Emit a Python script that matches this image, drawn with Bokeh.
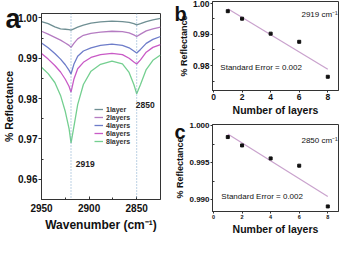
import numpy as np
from bokeh.plotting import figure
from bokeh.models import Range1d, FixedTicker, PrintfTickFormatter, Label, Span, Legend, LegendItem, Title
from bokeh.layouts import row, column
from bokeh.embed import file_html
from bokeh.resources import INLINE

# ---------------- data ----------------
wavenumber = [2950, 2943, 2936, 2930, 2925, 2921, 2919, 2916, 2912, 2906, 2898,
              2888, 2876, 2865, 2858, 2853, 2850, 2846, 2840, 2833, 2825]
refl_1layer = [0.9991, 0.9986, 0.9978, 0.9973, 0.9972, 0.9971, 0.9970, 0.9973, 0.9977, 0.9982, 0.9987,
               0.9990, 0.9992, 0.9991, 0.9989, 0.9986, 0.9983, 0.9986, 0.9991, 0.9995, 0.9999]
refl_2layers = [0.9967, 0.9960, 0.9952, 0.9945, 0.9938, 0.9932, 0.9927, 0.9937, 0.9948, 0.9957, 0.9962,
                0.9965, 0.9967, 0.9966, 0.9963, 0.9958, 0.9954, 0.9960, 0.9968, 0.9973, 0.9977]
refl_4layers = [0.9938, 0.9926, 0.9912, 0.9898, 0.9884, 0.9870, 0.9861, 0.9885, 0.9905, 0.9918, 0.9926,
                0.9932, 0.9935, 0.9932, 0.9926, 0.9918, 0.9913, 0.9922, 0.9937, 0.9947, 0.9954]
refl_6layers = [0.9912, 0.9898, 0.9882, 0.9866, 0.9848, 0.9830, 0.9816, 0.9848, 0.9874, 0.9890, 0.9902,
                0.9909, 0.9912, 0.9909, 0.9900, 0.9891, 0.9886, 0.9896, 0.9915, 0.9927, 0.9934]
refl_8layers = [0.9878, 0.9862, 0.9840, 0.9808, 0.9768, 0.9725, 0.9690, 0.9730, 0.9785, 0.9835, 0.9868,
                0.9885, 0.9893, 0.9886, 0.9865, 0.9835, 0.9812, 0.9835, 0.9872, 0.9895, 0.9908]
series_names = ["1layer", "2layers", "4layers", "6layers", "8layers"]
series_colors = ["#6f8f93", "#b57cc2", "#6d7cc9", "#c95ac6", "#74cf90"]

peaks = [2919, 2850]
peak_labels = ["2919", "2850"]

layers = [1, 2, 4, 6, 8]
refl_at_2919 = [0.9974, 0.9950, 0.9902, 0.9876, 0.9764]
refl_at_2850 = [0.99849, 0.99735, 0.99558, 0.99459, 0.98904]

a_x_ticks = [2950, 2900, 2850]
a_x_minor = [2925, 2875]
a_y_ticks = [0.96, 0.97, 0.98, 0.99, 1.00]
a_y_minor = [0.965, 0.975, 0.985, 0.995]
b_y_ticks = [0.98, 0.99, 1.00]
b_y_minor = [0.975, 0.985, 0.995]
c_y_ticks = [0.990, 0.995, 1.000]
c_y_minor = [0.9925, 0.9975]
layer_ticks = [0, 2, 4, 6, 8]

FONT = "Liberation Sans"
AX = "#333333"
TXT = "#111111"


def style_axis(ax, tick_size, label_size):
    ax.axis_line_color = AX
    ax.major_tick_line_color = AX
    ax.minor_tick_line_color = AX
    ax.major_label_text_font = FONT
    ax.major_label_text_font_style = "bold"
    ax.major_label_text_font_size = tick_size
    ax.major_label_text_color = TXT
    ax.axis_label_text_font = FONT
    ax.axis_label_text_font_style = "bold"
    ax.axis_label_text_font_size = label_size
    ax.axis_label_text_color = TXT


def base_fig(**kw):
    p = figure(output_backend="svg", toolbar_location=None, **kw)
    p.xgrid.visible = False
    p.ygrid.visible = False
    p.outline_line_color = AX
    p.outline_line_alpha = 1
    p.background_fill_color = "white"
    p.border_fill_color = "white"
    return p


def panel_letter(p, letter, size, offset, standoff):
    # panel letter drawn as a left-aligned title that hangs down beside the frame
    p.add_layout(Title(text=letter, align="left", offset=offset, standoff=standoff,
                       vertical_align="bottom", text_font=FONT, text_font_size=size,
                       text_font_style="bold", text_color="#111111"), "above")


# ---------------- panel a ----------------
pa = base_fig(width=172, height=237, x_range=Range1d(2950, 2825), y_range=Range1d(0.955, 1.0011),
              min_border_left=35, min_border_right=12, min_border_top=13, min_border_bottom=38)
style_axis(pa.xaxis[0], "10px", "12px")
style_axis(pa.yaxis[0], "10px", "10.5px")
pa.xaxis.ticker = FixedTicker(ticks=a_x_ticks, minor_ticks=a_x_minor)
pa.xaxis.major_tick_in = 3
pa.xaxis.major_tick_out = 0
pa.xaxis.minor_tick_in = 2
pa.xaxis.minor_tick_out = 0
pa.xaxis.major_label_standoff = 4
pa.xaxis.axis_label = "Wavenumber (cm⁻¹)"
pa.xaxis.axis_label_standoff = 3
pa.yaxis.ticker = FixedTicker(ticks=a_y_ticks, minor_ticks=a_y_minor)
pa.yaxis.formatter = PrintfTickFormatter(format="%.2f")
pa.yaxis.major_tick_in = 0
pa.yaxis.major_tick_out = 3
pa.yaxis.minor_tick_in = 2
pa.yaxis.minor_tick_out = 0
pa.yaxis.major_label_standoff = 1
pa.yaxis.axis_label = "% Reflectance"
pa.yaxis.axis_label_standoff = 0

for wn in peaks:
    pa.add_layout(Span(location=wn, dimension="height", line_color="#7aa3c8",
                       line_dash="1 2", line_width=1))

all_series = [refl_1layer, refl_2layers, refl_4layers, refl_6layers, refl_8layers]
items = []
for name, vals, col in zip(series_names, all_series, series_colors):
    r = pa.line(wavenumber, vals, line_color=col, line_width=1.3)
    items.append(LegendItem(label=name, renderers=[r]))

leg = Legend(items=items, location=(53, 54))
leg.background_fill_alpha = 0
leg.border_line_alpha = 0
leg.padding = 0
leg.margin = 0
leg.spacing = 0
leg.label_height = 8
leg.glyph_height = 8
leg.glyph_width = 9
leg.label_standoff = 3
leg.label_text_font = FONT
leg.label_text_font_size = "7px"
leg.label_text_font_style = "bold"
leg.label_text_color = "#333333"
pa.add_layout(leg)

pa.add_layout(Label(x=2914, y=0.9639, text=peak_labels[0], text_baseline="middle",
                    text_font=FONT, text_font_size="8.5px", text_font_style="bold", text_color="#222222"))
pa.add_layout(Label(x=2851, y=0.9783, text=peak_labels[1], text_baseline="middle",
                    text_font=FONT, text_font_size="8.5px", text_font_style="bold", text_color="#222222"))
panel_letter(pa, "a", "27px", -36, -41)


# ---------------- panels b and c ----------------
def layer_panel(height, yr, yticks, yminor, yfmt, ytick_size, xtick_size, mb_top, mb_bottom):
    p = base_fig(width=167, height=height, x_range=Range1d(-0.07, 8.75), y_range=Range1d(*yr),
                 min_border_left=39, min_border_right=1, min_border_top=mb_top, min_border_bottom=mb_bottom)
    style_axis(p.xaxis[0], xtick_size, "10.5px")
    style_axis(p.yaxis[0], ytick_size, "9px")
    p.xaxis.ticker = FixedTicker(ticks=layer_ticks, minor_ticks=[])
    p.xaxis.major_tick_in = 0
    p.xaxis.major_tick_out = 2
    p.xaxis.major_label_standoff = 1
    p.xaxis.axis_label = "Number of layers"
    p.xaxis.axis_label_standoff = 1
    p.yaxis.ticker = FixedTicker(ticks=yticks, minor_ticks=yminor)
    p.yaxis.formatter = PrintfTickFormatter(format=yfmt)
    p.yaxis.major_tick_in = 0
    p.yaxis.major_tick_out = 2
    p.yaxis.minor_tick_in = 2
    p.yaxis.minor_tick_out = 0
    p.yaxis.major_label_standoff = 1
    p.yaxis.axis_label = "% Reflectance"
    p.yaxis.axis_label_standoff = 1
    return p


def add_fit(p, xs, ys):
    coef = np.polyfit(xs, ys, 1)
    fx = [min(xs), max(xs)]
    p.line(fx, list(np.polyval(coef, fx)), line_color="#c9a2cd", line_width=1.2)
    p.scatter(xs, ys, marker="square", size=3, fill_color="#111111", line_color="#111111")


pb = layer_panel(118, (0.972, 1.0005), b_y_ticks, b_y_minor, "%.2f", "8.5px", "8.5px", 1, 25)
add_fit(pb, layers, refl_at_2919)
pb.add_layout(Label(x=8.7, y=0.9964, text="2919 cm⁻¹", text_align="right", text_baseline="middle",
                    text_font=FONT, text_font_size="8px", text_color="#111111"))
pb.add_layout(Label(x=0.48, y=0.9793, text="Standard Error = 0.002", text_baseline="middle",
                    text_font=FONT, text_font_size="8px", text_color="#111111"))
panel_letter(pb, "b", "20px", -38, -46)

pc = layer_panel(119, (0.98835, 1.0002), c_y_ticks, c_y_minor, "%.3f", "8px", "5.5px", 6, 22)
add_fit(pc, layers, refl_at_2850)
pc.add_layout(Label(x=8.7, y=0.99799, text="2850 cm⁻¹", text_align="right", text_baseline="middle",
                    text_font=FONT, text_font_size="8px", text_color="#111111"))
pc.add_layout(Label(x=0.55, y=0.9904, text="Standard Error = 0.002", text_baseline="middle",
                    text_font=FONT, text_font_size="8px", text_color="#111111"))
panel_letter(pc, "c", "20px", -38, -36)

layout = row(pa, column(pb, pc))
open("out.html", "w").write(file_html(layout, INLINE))
